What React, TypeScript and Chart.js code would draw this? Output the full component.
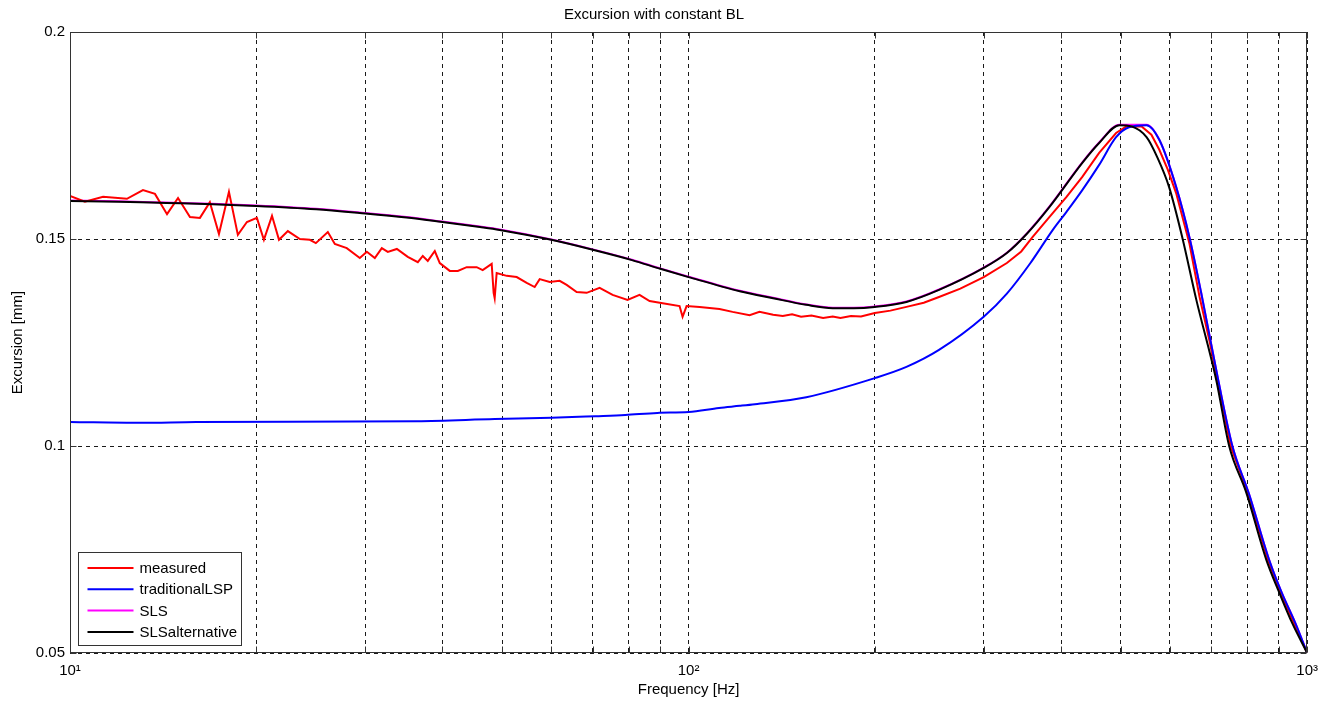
import React, { useEffect, useRef } from 'react';
import { Chart, registerables } from 'chart.js';

Chart.register(...registerables);

const FONT = '"Liberation Sans", Arial, Helvetica, sans-serif';

const titleText = 'Excursion with constant BL';
const xTitle = 'Frequency [Hz]';
const yTitle = 'Excursion [mm]';

const xTickValues = [10, 20, 30, 40, 50, 60, 70, 80, 90, 100, 200, 300, 400, 500, 600, 700, 800, 900, 1000];
const xTickLabels: Record<number, string> = { 10: '10¹', 100: '10²', 1000: '10³' };
const yTickValues = [0.05, 0.1, 0.15, 0.2];

const seriesNames = ['measured', 'traditionalLSP', 'SLS', 'SLSalternative'];
const seriesColors = ['#ff0000', '#0000ff', '#ff00ff', '#000000'];

const measuredFreq = [
  10.0, 10.57, 11.31, 12.36, 13.12, 13.72, 14.35, 14.95, 15.63, 16.22, 16.83, 17.41, 18.07, 18.68, 19.32, 20.05,
  20.58, 21.21, 21.77, 22.5, 23.53, 24.42, 24.97, 26.11, 26.8, 28.02, 29.41, 30.19, 31.1, 31.92, 32.64, 33.76,
  35.16, 36.5, 37.18, 37.88, 38.88, 39.61, 41.11, 42.36, 43.78, 45.44, 46.47, 48.05, 48.4, 48.59, 48.95, 50.82,
  52.74, 54.74, 56.39, 57.45, 59.63, 61.89, 63.52, 65.93, 68.43, 71.81, 75.37, 79.68, 83.31, 86.49, 90.8, 96.7,
  97.79, 99.26, 104.2, 112.2, 117.8, 125.5, 130.2, 137, 142, 147, 152, 158, 165, 171, 176, 183, 190, 200, 212, 225, 240, 254,
  275, 300, 327, 345, 360, 383, 408, 433, 461, 491, 510, 540, 560, 577, 595, 614, 645, 670, 695, 716, 752, 801, 864, 906, 952, 1000,
];
const measuredExc = [
  0.1604, 0.159, 0.1602, 0.1597, 0.1618, 0.1609, 0.156, 0.1599, 0.1553, 0.1551, 0.1589, 0.1512, 0.1614, 0.151, 0.1541, 0.1551,
  0.1498, 0.1556, 0.1498, 0.1519, 0.15, 0.1498, 0.149, 0.1517, 0.1488, 0.1478, 0.1454, 0.1469, 0.1454, 0.1478, 0.1469, 0.1476,
  0.1457, 0.1444, 0.1459, 0.1447, 0.1471, 0.1442, 0.1423, 0.1423, 0.1432, 0.1432, 0.1425, 0.144, 0.137, 0.1357, 0.1418, 0.1411,
  0.1408, 0.1394, 0.1384, 0.1403, 0.1396, 0.1399, 0.1389, 0.1372, 0.137, 0.1382, 0.1365, 0.1353, 0.1365, 0.135, 0.1345, 0.1338,
  0.1312, 0.1338, 0.1336, 0.1331, 0.1324, 0.1316, 0.1324, 0.1317, 0.1314, 0.1318, 0.1312, 0.1315, 0.1309, 0.1313, 0.1309, 0.1314, 0.1313, 0.1321, 0.1327, 0.1336, 0.1346, 0.136,
  0.138, 0.1408, 0.1442, 0.147, 0.1505, 0.1553, 0.1601, 0.165, 0.1708, 0.1756, 0.1772, 0.1772, 0.1752, 0.1715, 0.1668, 0.1611, 0.149, 0.136, 0.1255, 0.116, 0.1, 0.0888, 0.0725, 0.0645, 0.0572, 0.05,
];

const lspFreq = [
  10, 13, 16, 36.4, 48.6, 60, 70.7, 79, 89, 100, 112, 121, 128, 155, 200, 225, 254, 300, 327, 357, 388, 408, 433, 461,
  491, 515, 550, 577, 614, 645, 674, 718, 757, 805, 868, 910, 957, 1000,
];
const lspExc = [
  0.1058, 0.1056, 0.1058, 0.106, 0.1065, 0.1068, 0.1072, 0.1075, 0.108, 0.1082, 0.1092, 0.1097, 0.1101, 0.1118, 0.1164, 0.1191,
  0.1232, 0.1312, 0.1368, 0.1442, 0.1522, 0.1565, 0.1618, 0.1679, 0.1746, 0.177, 0.1775, 0.1739, 0.1626, 0.1505, 0.137, 0.116,
  0.1, 0.0885, 0.0725, 0.0645, 0.0572, 0.05,
];

const slsFreq = [
  10, 12, 14.3, 17, 20, 25, 29.4, 35, 40, 46, 49.5, 60, 70, 81, 90, 100, 121, 137, 155, 171, 185, 200, 225, 254, 300,
  327, 352, 383, 433, 461, 497, 550, 577, 614, 645, 674, 718, 757, 805, 868, 910, 957, 1000,
];
const slsExc = [
  0.1593, 0.1591, 0.1588, 0.1585, 0.1581, 0.1573, 0.1564, 0.1553, 0.1542, 0.153, 0.1523, 0.1499, 0.1475, 0.145, 0.1429, 0.1409,
  0.1375, 0.1358, 0.1342, 0.1334, 0.1334, 0.1337, 0.1349, 0.1378, 0.1431, 0.1467, 0.1513, 0.1578, 0.1685, 0.1733, 0.1776, 0.1776,
  0.1739, 0.1626, 0.1505, 0.137, 0.116, 0.1, 0.0885, 0.0725, 0.0645, 0.0572, 0.05,
];

const altFreq = [
  10, 12, 14.3, 17, 20, 25, 29.4, 35, 40, 46, 49.5, 60, 70, 81, 90, 100, 121, 137, 155, 171, 185, 200, 225, 254, 300,
  327, 352, 383, 433, 461, 497, 520, 550, 573, 598, 628, 662, 713, 748, 797, 859, 902, 946, 1000,
];
const altExc = [
  0.1592, 0.159, 0.1587, 0.1584, 0.158, 0.1572, 0.1563, 0.1552, 0.1541, 0.1529, 0.1522, 0.1498, 0.1474, 0.1449, 0.1428, 0.1408,
  0.1374, 0.1357, 0.1341, 0.1333, 0.1333, 0.1336, 0.1348, 0.1377, 0.143, 0.1466, 0.1512, 0.1577, 0.1684, 0.1732, 0.1775, 0.1772,
  0.1746, 0.1696, 0.1626, 0.1505, 0.1353, 0.1159, 0.1, 0.0888, 0.0725, 0.0645, 0.0572, 0.05,
];

const toPoints = (f: number[], v: number[]) => f.map((x, i) => ({ x, y: v[i] }));

export default function App() {
  const canvasRef = useRef<HTMLCanvasElement>(null);

  useEffect(() => {
    const canvas = canvasRef.current;
    if (!canvas) return;

    const framePlugin = {
      id: 'matlabFrame',
      afterDraw(chart: any) {
        const { ctx, chartArea, scales } = chart;
        const { left, right, top, bottom } = chartArea;
        ctx.save();
        ctx.strokeStyle = '#333333';
        ctx.lineWidth = 1;
        ctx.setLineDash([]);
        const L = Math.round(left) + 0.5;
        const R = Math.round(right) - 0.5;
        const T = Math.round(top) + 0.5;
        const B = Math.round(bottom) - 0.5;
        ctx.strokeRect(L, T, R - L, B - T);
        ctx.beginPath();
        const tl = 6;
        xTickValues.forEach((v) => {
          const px = Math.round(scales.x.getPixelForValue(v)) + 0.5;
          ctx.moveTo(px, B);
          ctx.lineTo(px, B - tl);
          ctx.moveTo(px, T);
          ctx.lineTo(px, T + tl);
        });
        yTickValues.forEach((v) => {
          const py = Math.round(scales.y.getPixelForValue(v)) + 0.5;
          ctx.moveTo(L, py);
          ctx.lineTo(L + tl, py);
          ctx.moveTo(R, py);
          ctx.lineTo(R - tl, py);
        });
        ctx.stroke();

        // legend box
        const bx = left + 8.5;
        const by = 552.5;
        const bw = 163;
        const bh = 93;
        ctx.fillStyle = '#ffffff';
        ctx.fillRect(bx, by, bw, bh);
        ctx.strokeStyle = '#333333';
        ctx.lineWidth = 1;
        ctx.strokeRect(bx, by, bw, bh);
        ctx.font = `15px ${FONT}`;
        ctx.textBaseline = 'middle';
        ctx.textAlign = 'left';
        chart.data.datasets.forEach((ds: any, i: number) => {
          const ry = 568 + i * 21.3;
          ctx.strokeStyle = ds.borderColor;
          ctx.lineWidth = 2;
          ctx.beginPath();
          ctx.moveTo(bx + 9, ry);
          ctx.lineTo(bx + 55, ry);
          ctx.stroke();
          ctx.fillStyle = '#000000';
          ctx.fillText(ds.label, bx + 61, ry + 1);
        });
        ctx.restore();
      },
    };

    const series = [
      { f: measuredFreq, v: measuredExc, order: 3, smooth: false },
      { f: lspFreq, v: lspExc, order: 2, smooth: true },
      { f: slsFreq, v: slsExc, order: 4, smooth: true },
      { f: altFreq, v: altExc, order: 1, smooth: true },
    ];

    const gridOpts = { color: '#1a1a1a', lineWidth: 1, drawTicks: false };

    const chart = new Chart(canvas, {
      type: 'line',
      data: {
        datasets: series.map((s, i) => ({
          label: seriesNames[i],
          data: toPoints(s.f, s.v),
          borderColor: seriesColors[i],
          backgroundColor: seriesColors[i],
          borderWidth: 2,
          pointRadius: 0,
          tension: 0,
          cubicInterpolationMode: s.smooth ? 'monotone' : 'default',
          fill: false,
          order: s.order,
        })),
      },
      options: {
        responsive: false,
        animation: false,
        devicePixelRatio: 1,
        layout: { padding: { left: 0, right: 19, top: 0, bottom: 0 } },
        plugins: {
          legend: { display: false },
          tooltip: { enabled: false },
          title: {
            display: true,
            text: titleText,
            color: '#000000',
            font: { family: FONT, size: 15, weight: 'normal' },
            padding: { top: 6, bottom: 8 },
          },
        },
        scales: {
          x: {
            type: 'logarithmic',
            min: 10,
            max: 1000,
            afterBuildTicks: (scale: any) => {
              scale.ticks = xTickValues.map((v) => ({ value: v }));
            },
            afterFit: (scale: any) => {
              scale.height = 51;
            },
            ticks: {
              autoSkip: false,
              maxRotation: 0,
              minRotation: 0,
              padding: 9,
              color: '#000000',
              font: { family: FONT, size: 15 },
              callback: (value: any) => xTickLabels[Number(value)] ?? '',
            },
            grid: gridOpts,
            border: { display: false, dash: [4, 4] },
            title: {
              display: true,
              text: xTitle,
              color: '#000000',
              font: { family: FONT, size: 15 },
              padding: { top: 0, bottom: 5 },
            },
          },
          y: {
            type: 'linear',
            min: 0.05,
            max: 0.2,
            afterBuildTicks: (scale: any) => {
              scale.ticks = yTickValues.map((v) => ({ value: v }));
            },
            afterFit: (scale: any) => {
              scale.width = 70;
            },
            ticks: {
              padding: 5,
              color: '#000000',
              font: { family: FONT, size: 15 },
              callback: (value: any) => String(Number(Number(value).toFixed(2))),
            },
            grid: gridOpts,
            border: { display: false, dash: [4, 4] },
            title: {
              display: true,
              text: yTitle,
              color: '#000000',
              font: { family: FONT, size: 15 },
              padding: { top: 9, bottom: 0 },
            },
          },
        },
      } as any,
      plugins: [framePlugin],
    });

    return () => chart.destroy();
  }, []);

  return (
    <div style={{ position: 'absolute', left: 0, top: 0, width: 1327, height: 704, background: '#ffffff' }}>
      <canvas ref={canvasRef} width={1327} height={704} style={{ display: 'block', width: 1327, height: 704 }} />
    </div>
  );
}
